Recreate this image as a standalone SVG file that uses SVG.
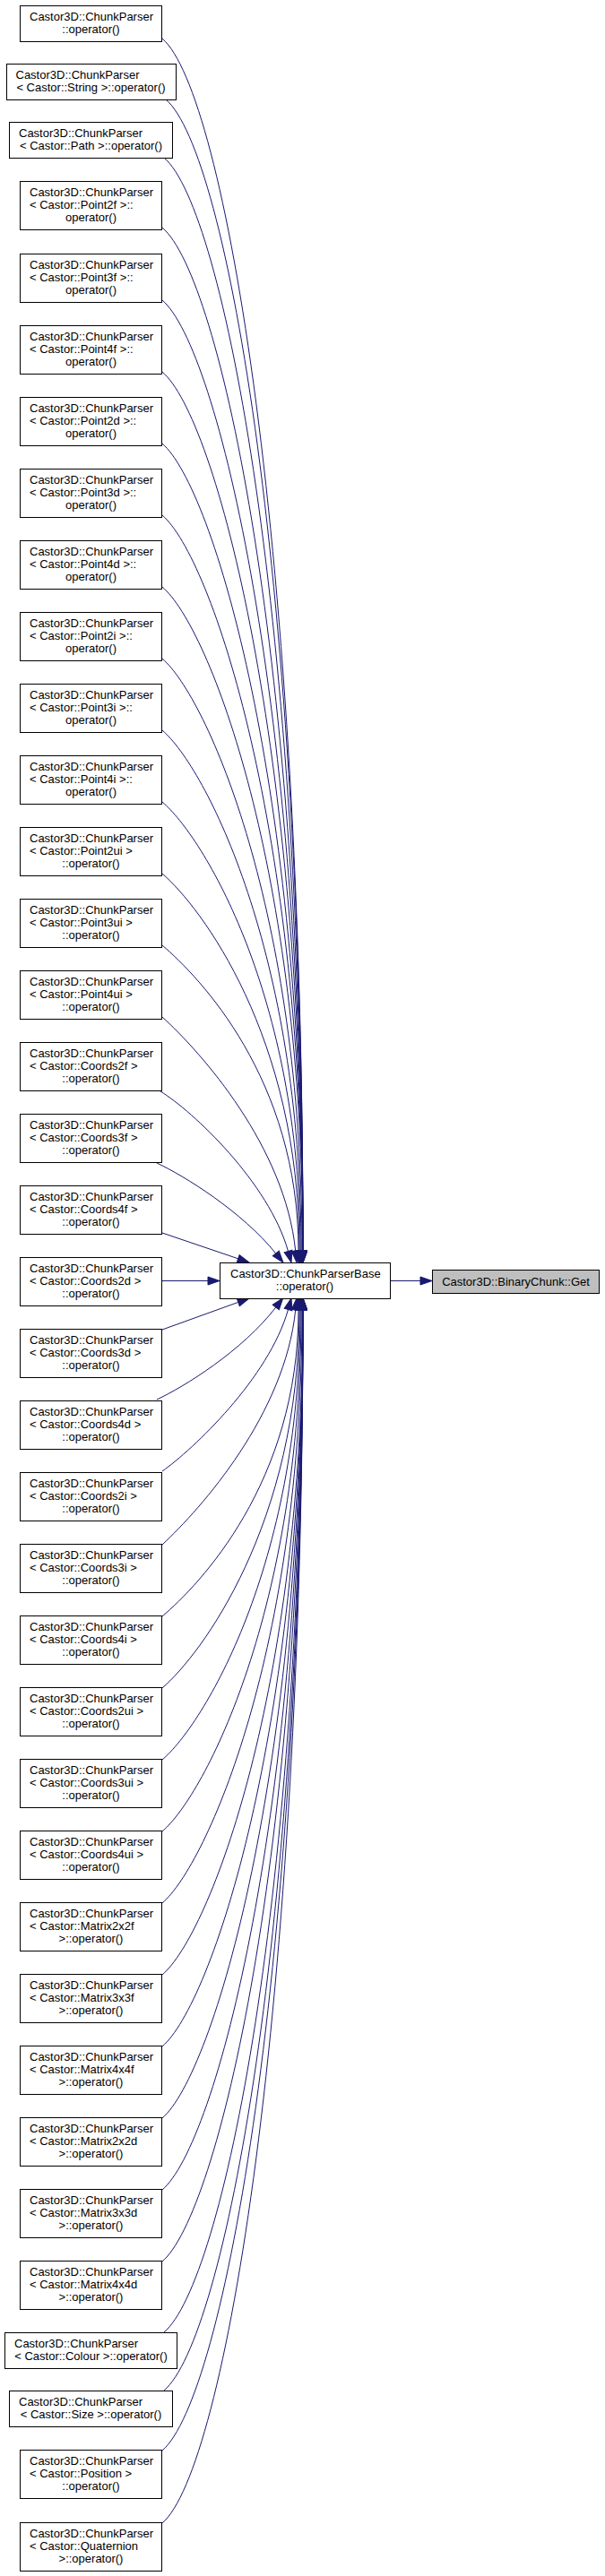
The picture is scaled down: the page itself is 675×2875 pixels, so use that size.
<svg xmlns="http://www.w3.org/2000/svg" width="675" height="2875" viewBox="0 0 675 2875">
<defs>
<marker id="arr" markerUnits="userSpaceOnUse" markerWidth="13" markerHeight="9" refX="0" refY="4.5" orient="auto" overflow="visible"><path d="M0,0 L13,4.5 L0,9 z" fill="#191970" stroke="#191970" stroke-width="1"/></marker>
</defs>
<style>
rect{fill:#fff;stroke:#000;stroke-width:1}
rect.g{fill:#bfbfbf}
text{font-family:"Liberation Sans",Arial,Helvetica,sans-serif;font-size:13px;fill:#000}
.m{text-anchor:middle}
#edges path{fill:none;stroke:#191970;stroke-width:1;marker-end:url(#arr)}
</style>
<rect x="0" y="0" width="675" height="2875" style="fill:#fff;stroke:none"/>
<g id="edges">
<path d="M181,43 C251,103 338,617 338,1396"/>
<path d="M185,111 C254,170 338,656 338,1396"/>
<path d="M183,176 C250,233 338,694 338,1396"/>
<path d="M181,254 C246,309 338,739 338,1396"/>
<path d="M181,335 C243,388 338,786 338,1396"/>
<path d="M181,415 C241,466 338,832 338,1396"/>
<path d="M181,495 C238,544 338,879 338,1396"/>
<path d="M181,575 C236,622 338,925 338,1396"/>
<path d="M181,655 C234,700 338,972 338,1396"/>
<path d="M181,735 C231,778 337,1018 337,1396"/>
<path d="M181,815 C229,856 336,1064 336,1396"/>
<path d="M181,895 C226,933 335,1111 335,1396"/>
<path d="M181,975 C224,1012 334,1157 334,1396"/>
<path d="M181,1055 C222,1090 333,1204 333,1396"/>
<path d="M181,1135 C225,1175 318,1280 329.7,1396"/>
<path d="M179,1218 C215,1240 300,1320 321.5,1396.5"/>
<path d="M175,1298 C205,1312 270,1352 307.8,1399"/>
<path d="M181,1376 L265.7,1404.8"/>
<path d="M181,1429.5 L232,1429.5"/>
<path d="M181,1484 L265.8,1453.4"/>
<path d="M175,1562 C205,1548 270,1508 307.8,1459"/>
<path d="M181,1642 C215,1618 300,1538 321.5,1461.5"/>
<path d="M181,1724 C225,1683 318,1578 329.7,1462"/>
<path d="M181,1804 C222,1769 333,1655 333,1462"/>
<path d="M181,1884 C224,1847 334,1701 334,1462"/>
<path d="M181,1964 C226,1926 335,1748 335,1462"/>
<path d="M181,2044 C229,2003 336,1794 336,1462"/>
<path d="M181,2124 C231,2081 337,1840 337,1462"/>
<path d="M181,2204 C234,2159 338,1887 338,1462"/>
<path d="M181,2284 C236,2237 338,1933 338,1462"/>
<path d="M181,2364 C238,2315 338,1980 338,1462"/>
<path d="M181,2444 C241,2393 338,2026 338,1462"/>
<path d="M181,2524 C243,2471 338,2072 338,1462"/>
<path d="M183,2603 C248,2548 338,2118 338,1462"/>
<path d="M183,2668 C250,2611 338,2156 338,1462"/>
<path d="M181,2735 C250,2676 338,2195 338,1462"/>
<path d="M181,2816 C251,2756 338,2242 338,1462"/>
<path d="M435,1429.5 L469,1429.5"/>
</g>
<g id="base"><rect x="245.5" y="1409.5" width="190" height="40"/><text x="257" y="1426">Castor3D::ChunkParserBase</text><text class="m" x="340" y="1440">::operator()</text></g>
<g id="get"><rect class="g" x="482.5" y="1417.5" width="186" height="26"/><text class="m" x="575.5" y="1434.5">Castor3D::BinaryChunk::Get</text></g>
<g id="n1"><rect x="22.5" y="6.5" width="158" height="40"/><text x="33" y="23">Castor3D::ChunkParser</text><text class="m" x="101.5" y="37">::operator()</text></g>
<g id="n2"><rect x="7.5" y="71.5" width="189" height="40"/><text x="17.5" y="88">Castor3D::ChunkParser</text><text class="m" x="101.5" y="102">&lt; Castor::String &gt;::operator()</text></g>
<g id="n3"><rect x="10.5" y="136.5" width="182" height="40"/><text x="21" y="153">Castor3D::ChunkParser</text><text class="m" x="101.5" y="167">&lt; Castor::Path &gt;::operator()</text></g>
<g id="n4"><rect x="22.5" y="202.5" width="158" height="54"/><text x="33" y="219">Castor3D::ChunkParser</text><text x="33" y="233">&lt; Castor::Point2f &gt;::</text><text class="m" x="101.5" y="247">operator()</text></g>
<g id="n5"><rect x="22.5" y="283.5" width="158" height="54"/><text x="33" y="300">Castor3D::ChunkParser</text><text x="33" y="314">&lt; Castor::Point3f &gt;::</text><text class="m" x="101.5" y="328">operator()</text></g>
<g id="n6"><rect x="22.5" y="363.5" width="158" height="54"/><text x="33" y="380">Castor3D::ChunkParser</text><text x="33" y="394">&lt; Castor::Point4f &gt;::</text><text class="m" x="101.5" y="408">operator()</text></g>
<g id="n7"><rect x="22.5" y="443.5" width="158" height="54"/><text x="33" y="460">Castor3D::ChunkParser</text><text x="33" y="474">&lt; Castor::Point2d &gt;::</text><text class="m" x="101.5" y="488">operator()</text></g>
<g id="n8"><rect x="22.5" y="523.5" width="158" height="54"/><text x="33" y="540">Castor3D::ChunkParser</text><text x="33" y="554">&lt; Castor::Point3d &gt;::</text><text class="m" x="101.5" y="568">operator()</text></g>
<g id="n9"><rect x="22.5" y="603.5" width="158" height="54"/><text x="33" y="620">Castor3D::ChunkParser</text><text x="33" y="634">&lt; Castor::Point4d &gt;::</text><text class="m" x="101.5" y="648">operator()</text></g>
<g id="n10"><rect x="22.5" y="683.5" width="158" height="54"/><text x="33" y="700">Castor3D::ChunkParser</text><text x="33" y="714">&lt; Castor::Point2i &gt;::</text><text class="m" x="101.5" y="728">operator()</text></g>
<g id="n11"><rect x="22.5" y="763.5" width="158" height="54"/><text x="33" y="780">Castor3D::ChunkParser</text><text x="33" y="794">&lt; Castor::Point3i &gt;::</text><text class="m" x="101.5" y="808">operator()</text></g>
<g id="n12"><rect x="22.5" y="843.5" width="158" height="54"/><text x="33" y="860">Castor3D::ChunkParser</text><text x="33" y="874">&lt; Castor::Point4i &gt;::</text><text class="m" x="101.5" y="888">operator()</text></g>
<g id="n13"><rect x="22.5" y="923.5" width="158" height="54"/><text x="33" y="940">Castor3D::ChunkParser</text><text x="33" y="954">&lt; Castor::Point2ui &gt;</text><text class="m" x="101.5" y="968">::operator()</text></g>
<g id="n14"><rect x="22.5" y="1003.5" width="158" height="54"/><text x="33" y="1020">Castor3D::ChunkParser</text><text x="33" y="1034">&lt; Castor::Point3ui &gt;</text><text class="m" x="101.5" y="1048">::operator()</text></g>
<g id="n15"><rect x="22.5" y="1083.5" width="158" height="54"/><text x="33" y="1100">Castor3D::ChunkParser</text><text x="33" y="1114">&lt; Castor::Point4ui &gt;</text><text class="m" x="101.5" y="1128">::operator()</text></g>
<g id="n16"><rect x="22.5" y="1163.5" width="158" height="54"/><text x="33" y="1180">Castor3D::ChunkParser</text><text x="33" y="1194">&lt; Castor::Coords2f &gt;</text><text class="m" x="101.5" y="1208">::operator()</text></g>
<g id="n17"><rect x="22.5" y="1243.5" width="158" height="54"/><text x="33" y="1260">Castor3D::ChunkParser</text><text x="33" y="1274">&lt; Castor::Coords3f &gt;</text><text class="m" x="101.5" y="1288">::operator()</text></g>
<g id="n18"><rect x="22.5" y="1323.5" width="158" height="54"/><text x="33" y="1340">Castor3D::ChunkParser</text><text x="33" y="1354">&lt; Castor::Coords4f &gt;</text><text class="m" x="101.5" y="1368">::operator()</text></g>
<g id="n19"><rect x="22.5" y="1403.5" width="158" height="54"/><text x="33" y="1420">Castor3D::ChunkParser</text><text x="33" y="1434">&lt; Castor::Coords2d &gt;</text><text class="m" x="101.5" y="1448">::operator()</text></g>
<g id="n20"><rect x="22.5" y="1483.5" width="158" height="54"/><text x="33" y="1500">Castor3D::ChunkParser</text><text x="33" y="1514">&lt; Castor::Coords3d &gt;</text><text class="m" x="101.5" y="1528">::operator()</text></g>
<g id="n21"><rect x="22.5" y="1563.5" width="158" height="54"/><text x="33" y="1580">Castor3D::ChunkParser</text><text x="33" y="1594">&lt; Castor::Coords4d &gt;</text><text class="m" x="101.5" y="1608">::operator()</text></g>
<g id="n22"><rect x="22.5" y="1643.5" width="158" height="54"/><text x="33" y="1660">Castor3D::ChunkParser</text><text x="33" y="1674">&lt; Castor::Coords2i &gt;</text><text class="m" x="101.5" y="1688">::operator()</text></g>
<g id="n23"><rect x="22.5" y="1723.5" width="158" height="54"/><text x="33" y="1740">Castor3D::ChunkParser</text><text x="33" y="1754">&lt; Castor::Coords3i &gt;</text><text class="m" x="101.5" y="1768">::operator()</text></g>
<g id="n24"><rect x="22.5" y="1803.5" width="158" height="54"/><text x="33" y="1820">Castor3D::ChunkParser</text><text x="33" y="1834">&lt; Castor::Coords4i &gt;</text><text class="m" x="101.5" y="1848">::operator()</text></g>
<g id="n25"><rect x="22.5" y="1883.5" width="158" height="54"/><text x="33" y="1900">Castor3D::ChunkParser</text><text x="33" y="1914">&lt; Castor::Coords2ui &gt;</text><text class="m" x="101.5" y="1928">::operator()</text></g>
<g id="n26"><rect x="22.5" y="1963.5" width="158" height="54"/><text x="33" y="1980">Castor3D::ChunkParser</text><text x="33" y="1994">&lt; Castor::Coords3ui &gt;</text><text class="m" x="101.5" y="2008">::operator()</text></g>
<g id="n27"><rect x="22.5" y="2043.5" width="158" height="54"/><text x="33" y="2060">Castor3D::ChunkParser</text><text x="33" y="2074">&lt; Castor::Coords4ui &gt;</text><text class="m" x="101.5" y="2088">::operator()</text></g>
<g id="n28"><rect x="22.5" y="2123.5" width="158" height="54"/><text x="33" y="2140">Castor3D::ChunkParser</text><text x="33" y="2154">&lt; Castor::Matrix2x2f</text><text class="m" x="101.5" y="2168">&gt;::operator()</text></g>
<g id="n29"><rect x="22.5" y="2203.5" width="158" height="54"/><text x="33" y="2220">Castor3D::ChunkParser</text><text x="33" y="2234">&lt; Castor::Matrix3x3f</text><text class="m" x="101.5" y="2248">&gt;::operator()</text></g>
<g id="n30"><rect x="22.5" y="2283.5" width="158" height="54"/><text x="33" y="2300">Castor3D::ChunkParser</text><text x="33" y="2314">&lt; Castor::Matrix4x4f</text><text class="m" x="101.5" y="2328">&gt;::operator()</text></g>
<g id="n31"><rect x="22.5" y="2363.5" width="158" height="54"/><text x="33" y="2380">Castor3D::ChunkParser</text><text x="33" y="2394">&lt; Castor::Matrix2x2d</text><text class="m" x="101.5" y="2408">&gt;::operator()</text></g>
<g id="n32"><rect x="22.5" y="2443.5" width="158" height="54"/><text x="33" y="2460">Castor3D::ChunkParser</text><text x="33" y="2474">&lt; Castor::Matrix3x3d</text><text class="m" x="101.5" y="2488">&gt;::operator()</text></g>
<g id="n33"><rect x="22.5" y="2523.5" width="158" height="54"/><text x="33" y="2540">Castor3D::ChunkParser</text><text x="33" y="2554">&lt; Castor::Matrix4x4d</text><text class="m" x="101.5" y="2568">&gt;::operator()</text></g>
<g id="n34"><rect x="5.5" y="2603.5" width="192" height="40"/><text x="16" y="2620">Castor3D::ChunkParser</text><text class="m" x="101.5" y="2634">&lt; Castor::Colour &gt;::operator()</text></g>
<g id="n35"><rect x="10.5" y="2668.5" width="182" height="40"/><text x="21" y="2685">Castor3D::ChunkParser</text><text class="m" x="101.5" y="2699">&lt; Castor::Size &gt;::operator()</text></g>
<g id="n36"><rect x="22.5" y="2734.5" width="158" height="54"/><text x="33" y="2751">Castor3D::ChunkParser</text><text x="33" y="2765">&lt; Castor::Position &gt;</text><text class="m" x="101.5" y="2779">::operator()</text></g>
<g id="n37"><rect x="22.5" y="2815.5" width="158" height="54"/><text x="33" y="2832">Castor3D::ChunkParser</text><text x="33" y="2846">&lt; Castor::Quaternion</text><text class="m" x="101.5" y="2860">&gt;::operator()</text></g>
</svg>
